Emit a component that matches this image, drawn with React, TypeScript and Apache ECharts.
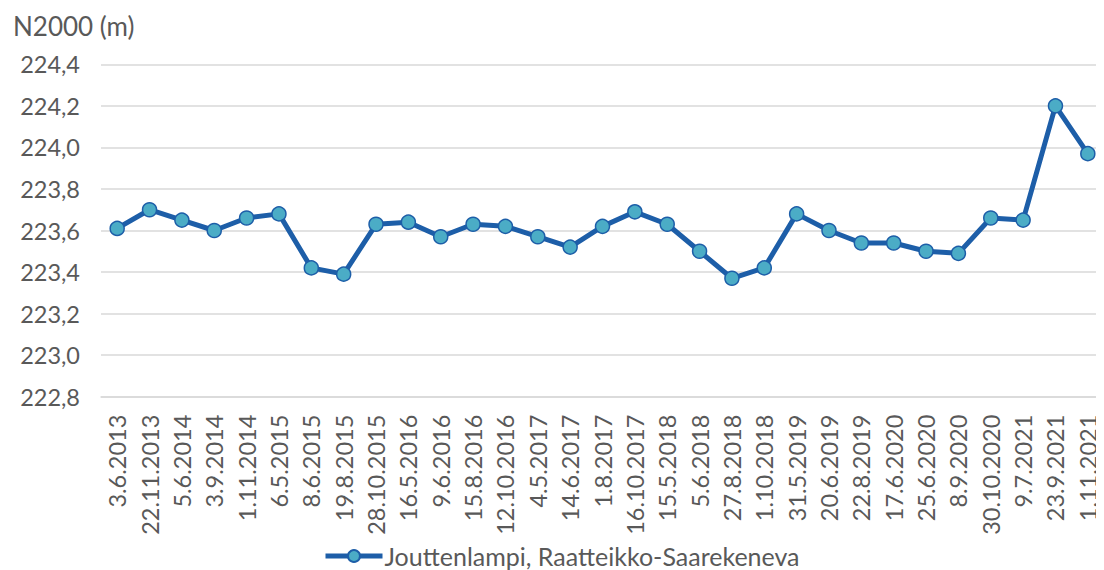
import React, { useEffect, useRef } from "react";
import * as echarts from "echarts";

const categories = [
  "3.6.2013", "22.11.2013", "5.6.2014", "3.9.2014", "1.11.2014", "6.5.2015",
  "8.6.2015", "19.8.2015", "28.10.2015", "16.5.2016", "9.6.2016", "15.8.2016",
  "12.10.2016", "4.5.2017", "14.6.2017", "1.8.2017", "16.10.2017", "15.5.2018",
  "5.6.2018", "27.8.2018", "1.10.2018", "31.5.2019", "20.6.2019", "22.8.2019",
  "17.6.2020", "25.6.2020", "8.9.2020", "30.10.2020", "9.7.2021", "23.9.2021",
  "1.11.2021",
];

const levels = [
  223.61, 223.70, 223.65, 223.60, 223.66, 223.68,
  223.42, 223.39, 223.63, 223.64, 223.57, 223.63,
  223.62, 223.57, 223.52, 223.62, 223.69, 223.63,
  223.50, 223.37, 223.42, 223.68, 223.60, 223.54,
  223.54, 223.50, 223.49, 223.66, 223.65, 224.20,
  223.97,
];

const seriesName = "Jouttenlampi, Raatteikko-Saarekeneva";
const yTitle = "N2000 (m)";

export default function App() {
  const ref = useRef<HTMLDivElement>(null);
  useEffect(() => {
    if (!ref.current) return;
    const chart = echarts.init(ref.current, undefined, { renderer: "svg" });
    const font = "Lato, 'Noto Sans', sans-serif";
    const textColor = "#595959";
    chart.setOption({
      animation: false,
      textStyle: { fontFamily: font },
      grid: { left: 93, right: -11.4, top: 56.3, bottom: 173.3, containLabel: false },
      graphic: [
        {
          type: "text",
          left: 5,
          top: 5,
          style: { text: yTitle, fill: textColor, font: `26px ${font}`, lineHeight: 26 },
        },
      ],
      legend: {
        top: 535,
        left: 315,
        padding: 0,
        itemWidth: 57,
        itemHeight: 15,
        itemGap: 4,
        lineStyle: { width: 5 },
        textStyle: {
          color: textColor,
          fontSize: 25,
          lineHeight: 26,
          fontFamily: font,
          padding: [0, 0, 0, -3],
        },
        data: [seriesName],
      },
      xAxis: {
        type: "category",
        data: categories,
        boundaryGap: true,
        axisLine: { show: true, lineStyle: { color: "#d9d9d9", width: 1.5 } },
        axisTick: { show: false },
        axisLabel: {
          rotate: 90,
          interval: 0,
          margin: 18,
          color: textColor,
          fontSize: 23.5,
          fontFamily: font,
        },
      },
      yAxis: {
        type: "value",
        min: 222.8,
        max: 224.4,
        interval: 0.2,
        axisLine: { show: false },
        axisTick: { show: false },
        splitLine: { lineStyle: { color: "#d9d9d9", width: 1.5 } },
        axisLabel: {
          margin: 21,
          color: textColor,
          fontSize: 23.5,
          fontFamily: font,
          formatter: (v: number) => v.toFixed(1).replace(".", ","),
        },
      },
      series: [
        {
          name: seriesName,
          type: "line",
          data: levels,
          symbol: "circle",
          symbolSize: 14,
          lineStyle: { color: "#1d5ea8", width: 5 },
          itemStyle: { color: "#4bacc6", borderColor: "#1d5ea8", borderWidth: 1.5 },
        },
      ],
    });
    return () => chart.dispose();
  }, []);
  return <div ref={ref} style={{ width: 1096, height: 562 }} />;
}
